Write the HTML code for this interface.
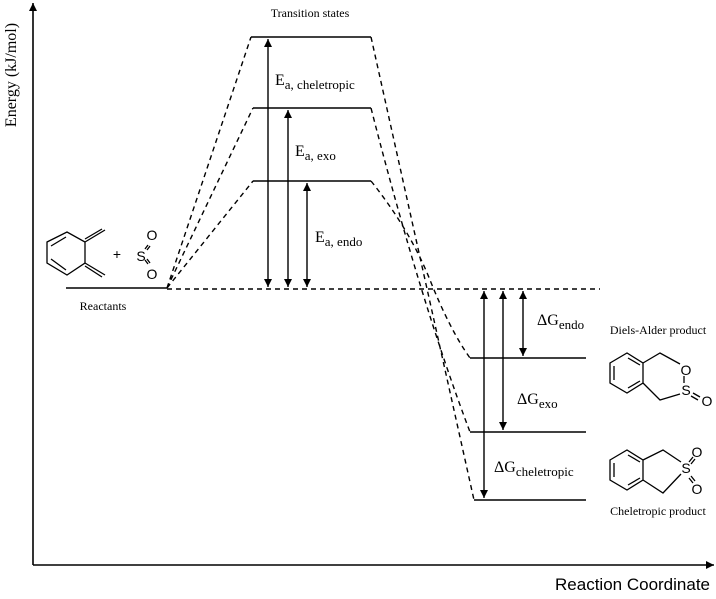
<!DOCTYPE html>
<html><head><style>body{margin:0;background:#fff}svg{display:block}text{font-family:"Liberation Serif",serif;fill:#000}.s{font-family:"Liberation Sans",sans-serif}</style></head><body>
<svg width="716" height="599" viewBox="0 0 716 599">
<defs><marker id="a" viewBox="0 0 10 10" refX="10" refY="5" markerWidth="8" markerHeight="12" markerUnits="userSpaceOnUse" orient="auto-start-reverse"><path d="M0,0L10,5L0,10z"/></marker></defs>
<g stroke="#000" fill="none" stroke-width="1.6">
<line x1="33" y1="565" x2="33" y2="3" marker-end="url(#a)"/>
<line x1="33" y1="565" x2="714" y2="565" marker-end="url(#a)"/>
<line x1="66" y1="288" x2="167" y2="288"/>
<line x1="251" y1="37" x2="371" y2="37"/>
<line x1="253" y1="108" x2="371" y2="108"/>
<line x1="253" y1="181" x2="371" y2="181"/>
<line x1="470" y1="358" x2="586" y2="358"/>
<line x1="470" y1="432" x2="586" y2="432"/>
<line x1="474" y1="500" x2="586" y2="500"/>
</g>
<g stroke="#000" fill="none" stroke-width="1.4" stroke-dasharray="5,4">
<line x1="167" y1="289" x2="600" y2="289"/>
<path d="M167,288 L251,37 M167,288 L253,108 M167,288 L253,181"/>
<path d="M371,37 L474,500 M371,108 Q420,300 470,432 M371,181 Q410,230 430,280 Q450,330 470,358"/>
</g>
<g stroke="#000" stroke-width="1.4" fill="none">
<line x1="268" y1="39" x2="268" y2="287" marker-start="url(#a)" marker-end="url(#a)"/>
<line x1="288" y1="110" x2="288" y2="287" marker-start="url(#a)" marker-end="url(#a)"/>
<line x1="307" y1="183" x2="307" y2="287" marker-start="url(#a)" marker-end="url(#a)"/>
<line x1="484" y1="291" x2="484" y2="498" marker-start="url(#a)" marker-end="url(#a)"/>
<line x1="503" y1="291" x2="503" y2="430" marker-start="url(#a)" marker-end="url(#a)"/>
<line x1="523" y1="291" x2="523" y2="356" marker-start="url(#a)" marker-end="url(#a)"/>
</g>
<text x="16" y="75" font-size="16" text-anchor="middle" transform="rotate(-90 16 75)">Energy (kJ/mol)</text>
<text x="710" y="590" font-size="17" text-anchor="end" style="font-family:'Liberation Sans',sans-serif">Reaction Coordinate</text>
<text x="310" y="17" font-size="12" text-anchor="middle">Transition states</text>
<text x="103" y="310" font-size="12" text-anchor="middle">Reactants</text>
<text x="658" y="334" font-size="12" text-anchor="middle">Diels-Alder product</text>
<text x="658" y="515" font-size="12" text-anchor="middle">Cheletropic product</text>
<text x="275" y="85" font-size="16">E<tspan font-size="13" dy="4">a, cheletropic</tspan></text>
<text x="295" y="156" font-size="16">E<tspan font-size="13" dy="4">a, exo</tspan></text>
<text x="315" y="242" font-size="16">E<tspan font-size="13" dy="4">a, endo</tspan></text>
<text x="537" y="325" font-size="16">ΔG<tspan font-size="13" dy="4">endo</tspan></text>
<text x="517" y="404" font-size="16">ΔG<tspan font-size="13" dy="4">exo</tspan></text>
<text x="494" y="472" font-size="16">ΔG<tspan font-size="13" dy="4">cheletropic</tspan></text>
<g stroke="#000" stroke-width="1.3" fill="none">
<path d="M47,242 L67,232 L85,242 L85,263 L67,275 L47,263 Z M85,242 L105,230 M85,263 L105,275"/>
<path d="M51,246 L66,237 M51,259 L66,270 M85,239 L102,229 M85,266 L102,277" />
<path d="M148,245 L145,249 M150,246 L147,250 M148,264 L145,260 M150,263 L147,259"/>
<path d="M610,363 L627,353 L643,363 L643,383 L627,393 L610,383 Z M614,366 L614,380 M628,358 L640,365 M628,388 L640,381 M643,363 L660,353 L680,364 M684,376 L684,383 M643,383 L660,400 L680,394 M693,393 L700,397 M691,396 L698,400"/>
<path d="M610,460 L627,450 L643,460 L643,480 L627,490 L610,480 Z M614,463 L614,477 M628,455 L640,462 M628,485 L640,478 M643,460 L663,450 L681,462 M643,480 L663,493 L681,474 M689,462 L693,457 M691,464 L695,459 M689,478 L693,483 M691,476 L695,481"/>
</g>
<g font-size="14" text-anchor="middle" style="font-family:'Liberation Sans',sans-serif">
<text x="117" y="259" class="s">+</text>
<text x="141" y="261" class="s">S</text><text x="152" y="240" class="s">O</text><text x="152" y="279" class="s">O</text>
<text x="686" y="375" class="s">O</text><text x="686" y="395" class="s">S</text><text x="707" y="406" class="s">O</text>
<text x="686" y="473" class="s">S</text><text x="697" y="457" class="s">O</text><text x="697" y="494" class="s">O</text>
</g>
</svg>
</body></html>
